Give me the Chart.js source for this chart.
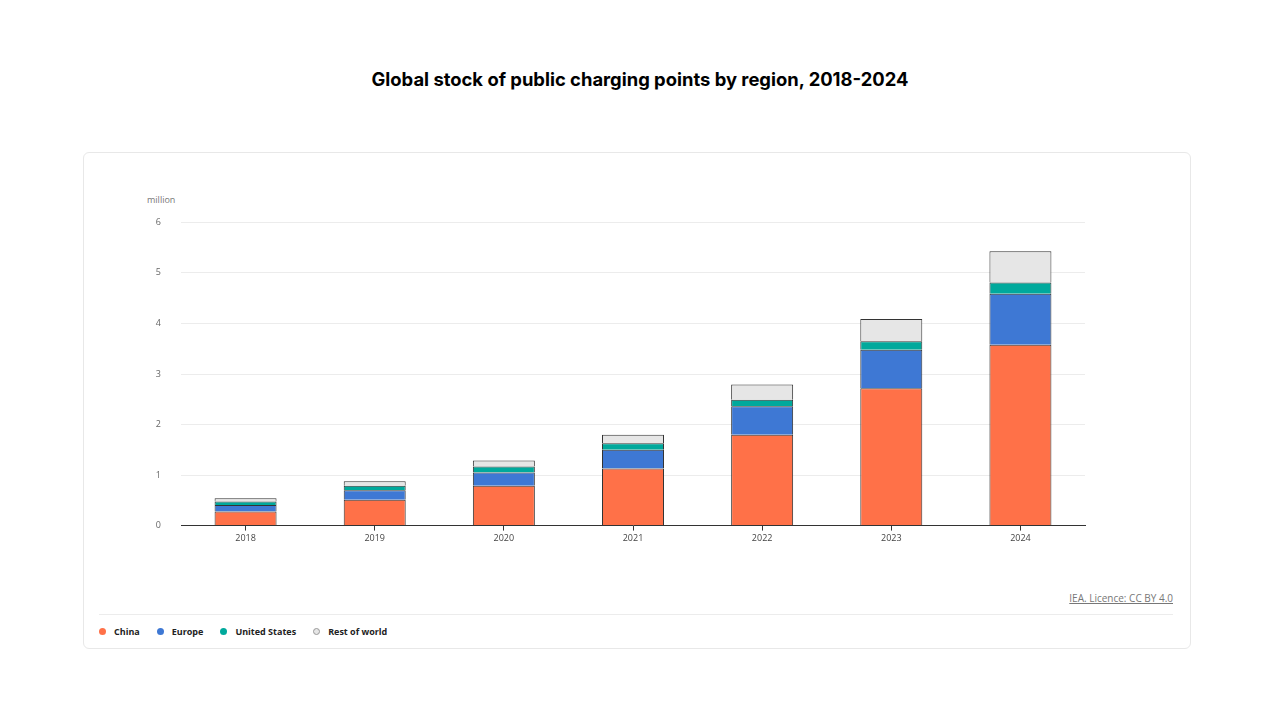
<!DOCTYPE html>
<html>
<head>
<meta charset="utf-8">
<script src="https://cdn.jsdelivr.net/npm/chart.js"></script>
<style>
  html, body { margin: 0; padding: 0; background: #fff; }
  body { width: 1280px; height: 720px; position: relative; overflow: hidden; font-family: "Open Sans", "DejaVu Sans", sans-serif; }
  #title { position: absolute; top: 68px; left: 0; width: 1280px; text-align: center; font-family: Inter, "Liberation Sans", sans-serif; font-weight: 700; font-size: 18.4px; color: #000; }
  #card { position: absolute; left: 83px; top: 152px; width: 1106px; height: 495px; border: 1px solid #e8e8e8; border-radius: 6px; }
  #unit { position: absolute; left: 147px; top: 193px; font-size: 9px; color: #777; }
  #wrap { position: absolute; left: 130px; top: 197px; width: 961px; height: 354px; }
  #source { position: absolute; right: 107px; top: 591px; font-size: 10px; color: #777; text-decoration: underline; }
  #sep { position: absolute; left: 99px; top: 614px; width: 1074px; height: 1px; background: #ececec; }
  #legend { position: absolute; left: 99px; top: 625px; display: flex; font-size: 9px; font-weight: 700; color: #222; }
  #legend span.item { display: flex; align-items: center; margin-right: 17px; }
  #legend span.dot { width: 7px; height: 7px; border-radius: 50%; margin-right: 8px; box-sizing: border-box; }
</style>
</head>
<body>
<div id="title">Global stock of public charging points by region, 2018-2024</div>
<div id="card"></div>
<div id="unit">million</div>
<div id="wrap"><canvas id="chart"></canvas></div>
<div id="source">IEA. Licence: CC BY 4.0</div>
<div id="sep"></div>
<div id="legend"></div>
<script>
// data (million charging points)
const years = ['2018', '2019', '2020', '2021', '2022', '2023', '2024'];
const china = [0.28, 0.51, 0.79, 1.13, 1.80, 2.72, 3.58];
const europe = [0.13, 0.19, 0.26, 0.37, 0.56, 0.76, 1.01];
const unitedStates = [0.065, 0.09, 0.12, 0.13, 0.13, 0.17, 0.22];
const restOfWorld = [0.065, 0.09, 0.12, 0.17, 0.30, 0.44, 0.62];
const yTicks = [0, 1, 2, 3, 4, 5, 6];

const series = [
  { label: 'China', data: china, color: '#ff7148' },
  { label: 'Europe', data: europe, color: '#3e78d4' },
  { label: 'United States', data: unitedStates, color: '#00a99c' },
  { label: 'Rest of world', data: restOfWorld, color: '#e6e6e6' }
];

// html legend
const legend = document.getElementById('legend');
series.forEach(s => {
  const item = document.createElement('span');
  item.className = 'item';
  const dot = document.createElement('span');
  dot.className = 'dot';
  dot.style.background = s.color;
  if (s.label === 'Rest of world') dot.style.border = '1px solid #999';
  item.appendChild(dot);
  item.appendChild(document.createTextNode(s.label));
  legend.appendChild(item);
});

new Chart(document.getElementById('chart'), {
  type: 'bar',
  data: {
    labels: years,
    datasets: series.map(s => ({
      label: s.label,
      data: s.data,
      backgroundColor: s.color,
      borderColor: '#333',
      borderWidth: 1,
      borderSkipped: 'start',
      barPercentage: 0.48,
      categoryPercentage: 1
    }))
  },
  options: {
    responsive: true,
    maintainAspectRatio: false,
    animation: false,
    layout: { padding: { top: 6, right: 6 } },
    plugins: { legend: { display: false }, tooltip: { enabled: false } },
    scales: {
      x: {
        stacked: true,
        grid: { display: true, drawOnChartArea: false, drawTicks: true, tickLength: 5, offset: false, color: '#333' },
        border: { display: true, color: '#333' },
        ticks: { color: '#444', font: { size: 9, family: 'Open Sans' }, padding: 2 }
      },
      y: {
        stacked: true,
        min: 0,
        max: 6,
        afterFit: scale => { scale.width = 51; },
        afterBuildTicks: scale => { scale.ticks = yTicks.map(v => ({ value: v })); },
        grid: { color: '#ececec', drawTicks: false },
        border: { display: false },
        ticks: { color: '#666', font: { size: 9, family: 'Open Sans' }, padding: 20 }
      }
    }
  }
});
</script>
</body>
</html>
